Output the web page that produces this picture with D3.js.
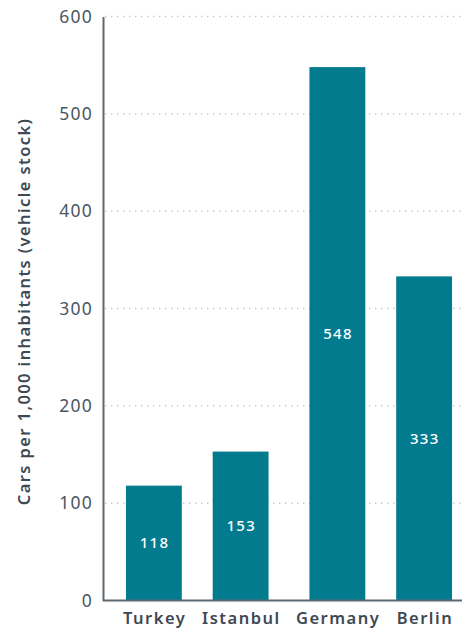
<!DOCTYPE html>
<meta charset="utf-8">
<style>
html, body { margin: 0; padding: 0; background: #fff; }
svg { display: block; }
text { font-family: "Noto Sans", sans-serif; }
.tick text { fill: #4b5660; font-size: 17.5px; letter-spacing: 1.2px; }
.grid line { stroke: #c9cbcd; stroke-width: 1.5px; stroke-dasharray: 1.5,4.5; }
</style>
<svg width="462" height="630"></svg>
<script src="https://d3js.org/d3.v7.min.js"></script>
<script>
var categories = ["Turkey", "Istanbul", "Germany", "Berlin"];
var groups = ["Turkey", "Turkey", "Germany", "Germany"];
var values = [118, 153, 548, 333];
var yTicks = [0, 100, 200, 300, 400, 500, 600];

var svg = d3.select("svg");
var plotLeft = 103, plotTop = 16.5, plotBottom = 600.5, plotRight = 462;

var y = d3.scaleLinear().domain([0, 600]).range([plotBottom, plotTop]);

var outer = d3.scaleBand()
    .domain(["Turkey", "Germany"])
    .range([106, 472])
    .paddingInner(0.2228)
    .paddingOuter(0.1087);

var inner = d3.scaleBand()
    .domain([0, 1])
    .range([0, outer.bandwidth()])
    .paddingInner(0.356)
    .paddingOuter(0);

function xPos(i) {
    var g = groups[i];
    var idx = groups.slice(0, i).filter(function(d) { return d === g; }).length;
    return outer(g) + inner(idx);
}

// grid
svg.append("g")
    .attr("class", "grid")
    .selectAll("line")
    .data(yTicks.filter(function(d) { return d > 0; }))
    .enter().append("line")
    .attr("x1", plotLeft + 2)
    .attr("x2", plotRight)
    .attr("y1", function(d) { return y(d); })
    .attr("y2", function(d) { return y(d); });

// bars
var data = categories.map(function(c, i) { return { name: c, value: values[i], i: i }; });

svg.append("g")
    .selectAll("rect")
    .data(data)
    .enter().append("rect")
    .attr("x", function(d) { return xPos(d.i); })
    .attr("width", inner.bandwidth())
    .attr("y", function(d) { return y(d.value); })
    .attr("height", function(d) { return y(0) - y(d.value); })
    .attr("fill", "#027b8f");

svg.append("g")
    .selectAll("text")
    .data(data)
    .enter().append("text")
    .attr("x", function(d) { return xPos(d.i) + inner.bandwidth() / 2 + 0.6; })
    .attr("y", function(d) { return (y(d.value) + y(0)) / 2; })
    .attr("dy", "0.36em")
    .attr("text-anchor", "middle")
    .attr("fill", "#fff")
    .style("font-size", "15px")
    .style("font-weight", 500)
    .style("letter-spacing", "1.3px")
    .text(function(d) { return d.value; });

// y axis
var yAxis = svg.append("g")
    .attr("transform", "translate(" + plotLeft + ",0)")
    .call(d3.axisLeft(y).tickValues(yTicks).tickSize(0).tickPadding(10));
yAxis.select(".domain").attr("stroke", "#5d6871").attr("stroke-width", 2);

// x baseline
svg.append("line")
    .attr("x1", plotLeft)
    .attr("x2", plotRight)
    .attr("y1", y(0))
    .attr("y2", y(0))
    .attr("stroke", "#5d6871")
    .attr("stroke-width", 2);

// x labels
svg.append("g")
    .selectAll("text")
    .data(data)
    .enter().append("text")
    .attr("x", function(d) { return xPos(d.i) + inner.bandwidth() / 2 + 0.8; })
    .attr("y", 624)
    .attr("text-anchor", "middle")
    .attr("fill", "#3d4852")
    .style("font-size", "16.5px")
    .style("font-weight", 600)
    .style("letter-spacing", "1.5px")
    .text(function(d) { return d.name; });

// y title
svg.append("text")
    .attr("transform", "translate(30," + ((plotTop + plotBottom) / 2 + 3) + ") rotate(-90)")
    .attr("text-anchor", "middle")
    .attr("fill", "#3d4852")
    .style("font-size", "16.5px")
    .style("font-weight", 600)
    .style("letter-spacing", "1.4px")
    .text("Cars per 1,000 inhabitants (vehicle stock)");
</script>
